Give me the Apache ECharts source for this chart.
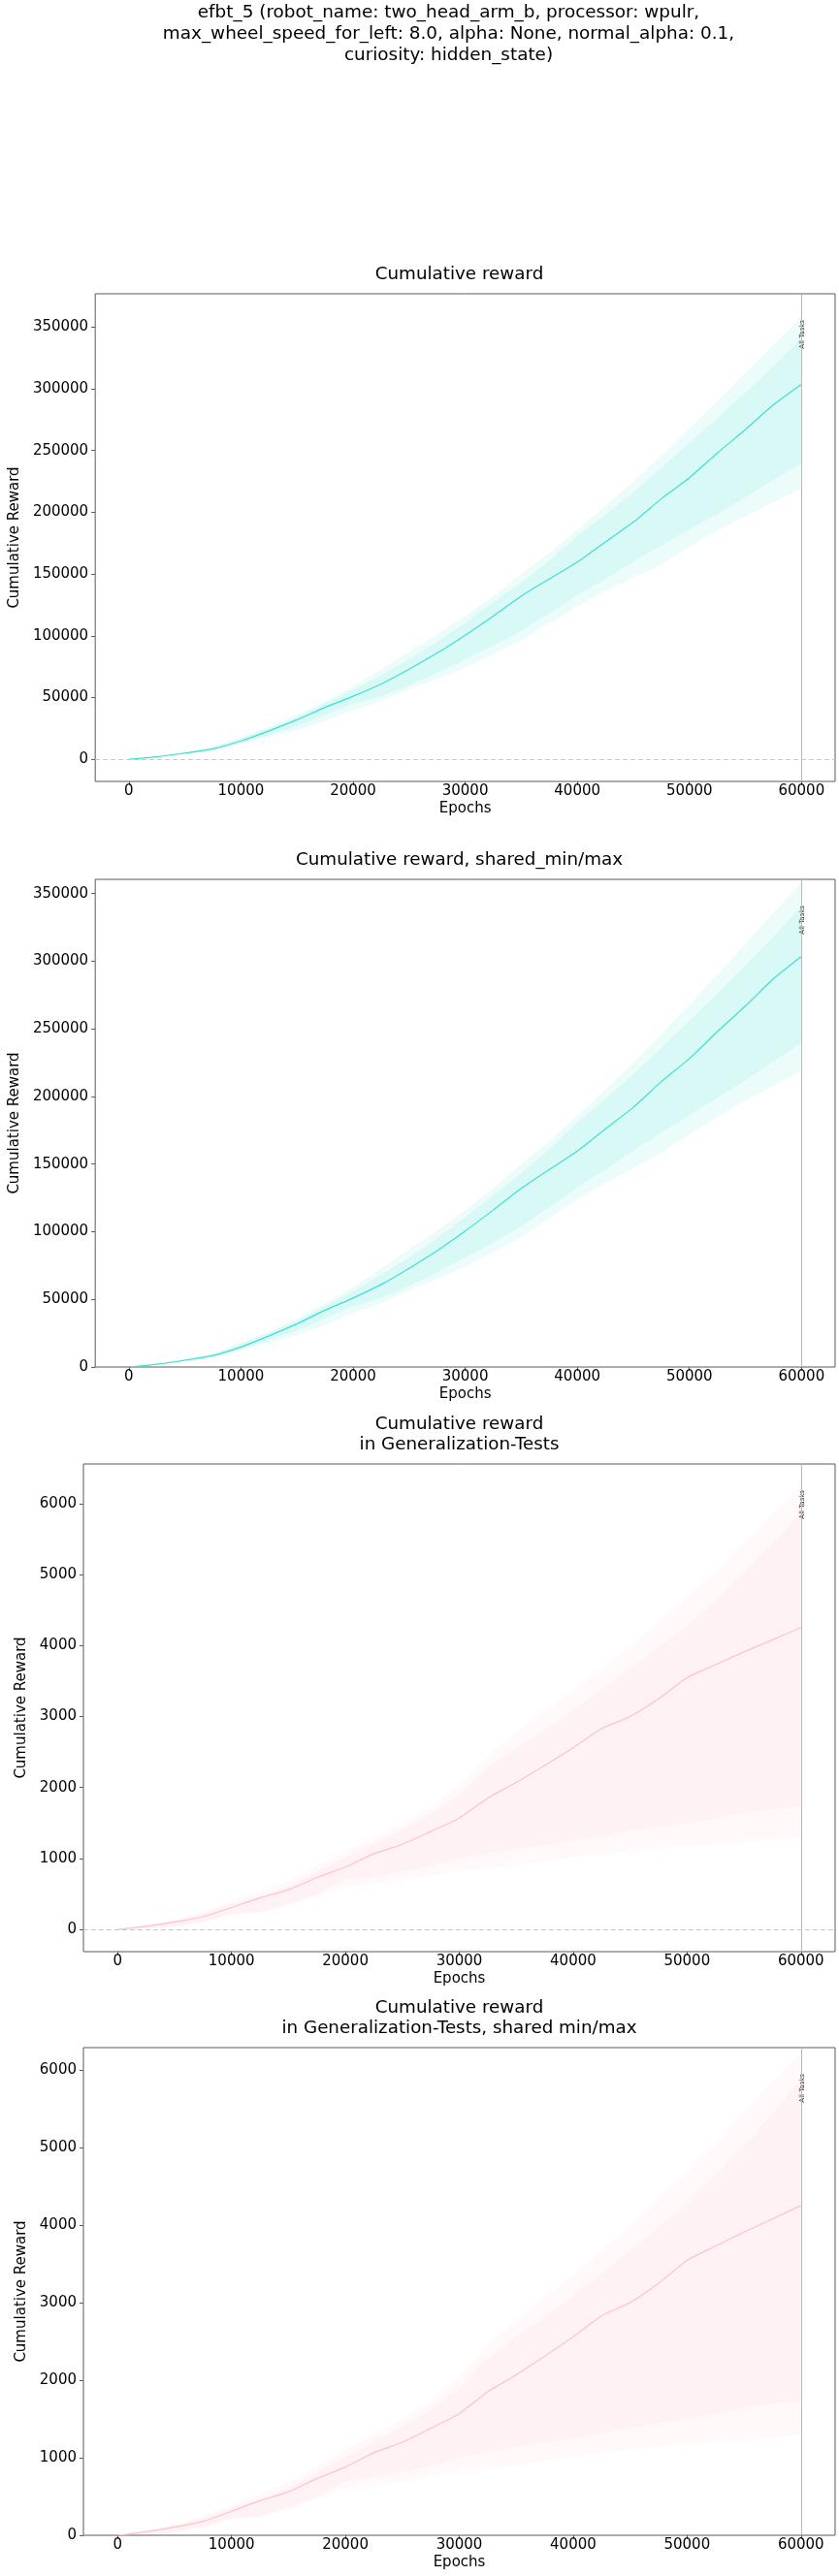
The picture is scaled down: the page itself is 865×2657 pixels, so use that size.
<!DOCTYPE html>
<html>
<head>
<meta charset="utf-8">
<script src="https://cdn.jsdelivr.net/npm/echarts@6/dist/echarts.min.js"></script>
<style>
  html, body { margin: 0; padding: 0; background: #fff; }
  #chart { width: 865px; height: 2657px; }
</style>
</head>
<body>
<div id="chart"></div>
<script>
// epochs sampled every 2500
var EPOCHS = [0, 2500, 5000, 7500, 10000, 12500, 15000, 17500, 20000, 22500, 25000, 27500, 30000,
              32500, 35000, 37500, 40000, 42500, 45000, 47500, 50000, 52500, 55000, 57500, 60000];

// training cumulative reward
var TRAIN_MEAN   = [0, 2000, 5000, 8500, 14800, 23000, 32000, 42000, 51000, 61000, 73000, 86000, 100500,
                    116000, 132000, 146000, 159600, 176000, 192000, 211000, 228000, 248000, 267000, 287000, 303500];
var TRAIN_MAX    = [0, 2500, 6000, 10000, 18000, 26000, 36000, 47000, 59000, 73000, 87000, 101000, 116000,
                    132000, 150000, 167000, 186000, 205000, 225000, 246000, 268000, 290000, 313000, 336000, 358000];
var TRAIN_STD_HI = [0, 2300, 5700, 9500, 17000, 25000, 34000, 45000, 56000, 68000, 81000, 95000, 110500,
                    127000, 143000, 161000, 180600, 198000, 216000, 236000, 256000, 276000, 297000, 318000, 341000];
var TRAIN_STD_LO = [0, 1600, 4300, 7500, 13500, 20000, 27000, 36000, 45000, 51000, 60000, 70000, 81000,
                    92000, 104000, 118000, 133000, 146000, 160000, 173000, 186000, 199000, 212000, 226000, 240000];
var TRAIN_MIN    = [0, 1500, 4000, 7000, 12600, 18000, 23600, 31000, 40000, 47000, 56600, 65000, 74000,
                    85000, 96000, 110000, 124000, 136000, 147000, 158000, 172000, 185000, 197000, 208000, 219000];

// generalization-test cumulative reward
var GEN_MEAN   = [0, 45, 105, 180, 310, 445, 561, 730, 880, 1065, 1200, 1380, 1570,
                  1850, 2070, 2310, 2560, 2830, 3000, 3250, 3545, 3730, 3910, 4080, 4253];
var GEN_MAX    = [0, 60, 140, 250, 401, 540, 690, 900, 1108, 1300, 1496, 1720, 2050,
                  2450, 2780, 3080, 3365, 3680, 3980, 4330, 4687, 5050, 5450, 5850, 6240];
var GEN_STD_HI = [0, 55, 125, 220, 356, 470, 600, 820, 1017, 1210, 1404, 1620, 1900,
                  2280, 2560, 2820, 3092, 3380, 3680, 3980, 4277, 4650, 5030, 5440, 5873];
var GEN_STD_LO = [0, 20, 40, 110, 219, 250, 360, 500, 698, 745, 812, 900, 994,
                  1070, 1140, 1190, 1244, 1310, 1385, 1440, 1495, 1560, 1640, 1690, 1724];
var GEN_MIN    = [0, 15, 30, 90, 196, 230, 330, 470, 606, 650, 698, 760, 834,
                  860, 905, 960, 1016, 1060, 1110, 1150, 1176, 1200, 1222, 1260, 1313];

// ticks
var X_TICKS = [0, 10000, 20000, 30000, 40000, 50000, 60000];
var TRAIN_Y_TICKS = [0, 50000, 100000, 150000, 200000, 250000, 300000, 350000];
var GEN_Y_TICKS = [0, 1000, 2000, 3000, 4000, 5000, 6000];

var SUPTITLE = 'efbt_5 (robot_name: two_head_arm_b, processor: wpulr,\n' +
               'max_wheel_speed_for_left: 8.0, alpha: None, normal_alpha: 0.1,\n' +
               'curiosity: hidden_state)';

var FONT = '"DejaVu Sans", sans-serif';
var TURQ = '#40e0d0', PINK = '#ffc0cb';

var panels = [
  { title: 'Cumulative reward', top: 303, ymin: -17950, ymax: 376950, ticks: TRAIN_Y_TICKS,
    d: [TRAIN_MEAN, TRAIN_MIN, TRAIN_MAX, TRAIN_STD_LO, TRAIN_STD_HI], rgb: '64,224,208', line: TURQ, zero: true, gap: 68 },
  { title: 'Cumulative reward, shared_min/max', top: 907, ymin: 0, ymax: 360500, ticks: TRAIN_Y_TICKS,
    d: [TRAIN_MEAN, TRAIN_MIN, TRAIN_MAX, TRAIN_STD_LO, TRAIN_STD_HI], rgb: '64,224,208', line: TURQ, zero: false, gap: 68 },
  { title: 'Cumulative reward\nin Generalization-Tests', top: 1510, ymin: -312, ymax: 6557, ticks: GEN_Y_TICKS,
    d: [GEN_MEAN, GEN_MIN, GEN_MAX, GEN_STD_LO, GEN_STD_HI], rgb: '255,192,203', line: PINK, zero: true, gap: 49 },
  { title: 'Cumulative reward\nin Generalization-Tests, shared min/max', top: 2112, ymin: 0, ymax: 6290, ticks: GEN_Y_TICKS,
    d: [GEN_MEAN, GEN_MIN, GEN_MAX, GEN_STD_LO, GEN_STD_HI], rgb: '255,192,203', line: PINK, zero: false, gap: 49 }
];
var GRID_LEFT = 86, GRID_W = 775, GRID_H = 503;

function band(gi, lo, hi, fill) {
  return {
    type: 'custom', xAxisIndex: gi, yAxisIndex: gi, silent: true, z: 1,
    data: [0],
    renderItem: function (params, api) {
      var pts = [];
      for (var i = 0; i < EPOCHS.length; i++) pts.push(api.coord([EPOCHS[i], hi[i]]));
      for (var j = EPOCHS.length - 1; j >= 0; j--) pts.push(api.coord([EPOCHS[j], lo[j]]));
      return { type: 'polygon', shape: { points: pts }, style: { fill: fill } };
    }
  };
}

var grids = [], xAxes = [], yAxes = [], series = [], graphics = [];

graphics.push({
  type: 'text', x: 462.5, y: 2.5, silent: true,
  style: { text: SUPTITLE, font: '18.4px ' + FONT, fill: '#000', textAlign: 'center',
           textVerticalAlign: 'top', lineHeight: 21.7 }
});

panels.forEach(function (p, gi) {
  grids.push({ left: GRID_LEFT, top: p.top, width: GRID_W, height: GRID_H,
               show: true, borderColor: '#5a5a5a', borderWidth: 1, backgroundColor: 'transparent' });
  var nLines = p.title.split('\n').length;
  graphics.push({
    type: 'text', x: GRID_LEFT + GRID_W / 2, y: p.top - 10 - nLines * 21 + 0.5, silent: true,
    style: { text: p.title, font: '18.3px ' + FONT, fill: '#000', textAlign: 'center',
             textVerticalAlign: 'top', lineHeight: 21 }
  });
  xAxes.push({
    gridIndex: gi, type: 'value', min: -3000, max: 63000, position: 'bottom',
    name: 'Epochs', nameLocation: 'middle', nameGap: 21,
    nameTextStyle: { fontFamily: FONT, fontSize: 15, color: '#000' },
    axisLine: { show: false, onZero: false },
    axisTick: { show: true, length: 4, lineStyle: { color: '#5a5a5a' }, customValues: X_TICKS },
    axisLabel: { fontFamily: FONT, fontSize: 15, color: '#000', margin: 3,
                 customValues: X_TICKS, formatter: function (v) { return String(v); } },
    splitLine: { show: false }
  });
  yAxes.push({
    gridIndex: gi, type: 'value', min: p.ymin, max: p.ymax, position: 'left',
    name: 'Cumulative Reward', nameLocation: 'middle', nameGap: p.gap,
    nameTextStyle: { fontFamily: FONT, fontSize: 15, color: '#000' },
    axisLine: { show: false, onZero: false },
    axisTick: { show: true, length: 4, lineStyle: { color: '#5a5a5a' }, customValues: p.ticks },
    axisLabel: { fontFamily: FONT, fontSize: 15, color: '#000', margin: 7,
                 customValues: p.ticks, formatter: function (v) { return String(v); } },
    splitLine: { show: false }
  });

  var mean = p.d[0], mn = p.d[1], mx = p.d[2], slo = p.d[3], shi = p.d[4];
  series.push(band(gi, mn, mx, 'rgba(' + p.rgb + ',0.10)'));
  series.push(band(gi, slo, shi, 'rgba(' + p.rgb + ',0.12)'));

  var markData = [{ xAxis: 60000, lineStyle: { color: '#b8b8b8', type: 'solid', width: 1 } }];
  if (p.zero) markData.push({ yAxis: 0, lineStyle: { color: '#c8c8c8', type: [5, 3], width: 1 } });

  series.push({
    type: 'line', xAxisIndex: gi, yAxisIndex: gi, z: 3,
    data: EPOCHS.map(function (e, i) { return [e, mean[i]]; }),
    showSymbol: false, symbol: 'none', silent: true, smooth: 0.25,
    lineStyle: { color: p.line, width: 1.2 },
    markLine: { silent: true, symbol: 'none', label: { show: false }, animation: false, data: markData }
  });
});

var chart = echarts.init(document.getElementById('chart'), null, { renderer: 'canvas' });
chart.setOption({
  animation: false,
  grid: grids, xAxis: xAxes, yAxis: yAxes, series: series,
  graphic: graphics
});

// "All Tasks" label next to the vertical marker
var extra = graphics.slice();
panels.forEach(function (p, gi) {
  var px = chart.convertToPixel({ xAxisIndex: gi }, 60000);
  extra.push({
    type: 'text', x: px + 1, y: p.top + 27, rotation: Math.PI / 2, silent: true,
    style: { text: 'All Tasks', font: '7px ' + FONT, fill: '#222', textAlign: 'right', textVerticalAlign: 'middle' }
  });
});
chart.setOption({ graphic: extra });
</script>
</body>
</html>
